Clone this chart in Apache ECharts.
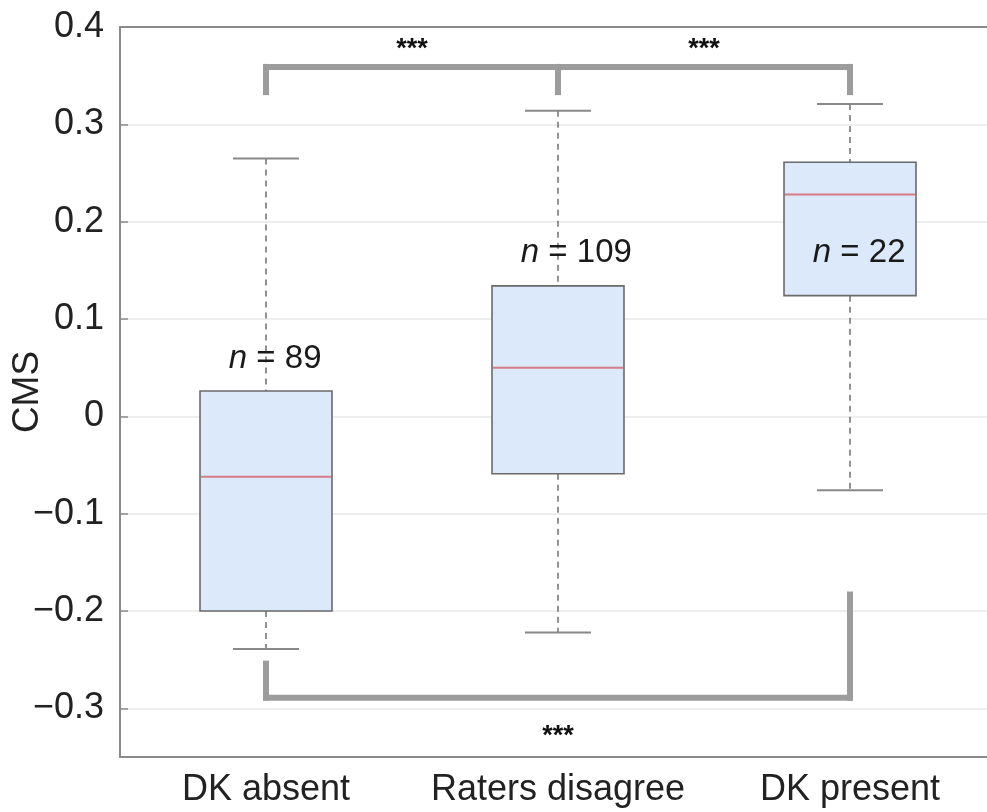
<!DOCTYPE html>
<html>
<head>
<meta charset="utf-8">
<script src="https://cdn.jsdelivr.net/npm/echarts@6/dist/echarts.min.js"></script>
<style>
  html, body { margin: 0; padding: 0; background: #fff; }
  #chart { width: 987px; height: 812px; }
</style>
</head>
<body>
<div id="chart"></div>
<script>
// ---- data ----
const categories   = ['DK absent', 'Raters disagree', 'DK present'];
const whiskerLow   = [-0.239, -0.222, -0.076];
const quartile1    = [-0.200, -0.059,  0.124];
const medians      = [-0.062,  0.050,  0.228];
const quartile3    = [ 0.026,  0.134,  0.261];
const whiskerHigh  = [ 0.265,  0.314,  0.321];
const nCounts      = [89, 109, 22];
const nLabelValue  = [0.059, 0.168, 0.168];
const yTicks       = [-0.3, -0.2, -0.1, 0, 0.1, 0.2, 0.3, 0.4];

// significance brackets (category indices, CMS values)
const topBracketY      = 0.359;
const topBracketDrops  = [[0, 0.330], [1, 0.330], [2, 0.330]];
const botBracketY      = -0.289;
const botBracketDrops  = [[0, -0.251], [2, -0.180]];
const starMarks        = [[0, 1, 0.3815], [1, 2, 0.3815], [0, 2, -0.3236]];
const starText         = '***';

const FONT = 'Liberation Sans, Arial, Helvetica, sans-serif';
const NFS = 33;
const boxData = categories.map((c, i) => [i, whiskerLow[i], quartile1[i], medians[i], quartile3[i], whiskerHigh[i], nCounts[i], nLabelValue[i]]);

function renderBox(params, api) {
  const i = api.value(0);
  const lo = api.coord([i, api.value(1)]);
  const q1 = api.coord([i, api.value(2)]);
  const md = api.coord([i, api.value(3)]);
  const q3 = api.coord([i, api.value(4)]);
  const hi = api.coord([i, api.value(5)]);
  const nl = api.coord([i, api.value(7)]);
  const band = api.size([1, 0])[0];
  const w = band * 0.452;
  const cw = w / 2;
  const x = lo[0];
  const dashStyle = { stroke: '#777777', lineWidth: 1.6, lineDash: [6, 5] };
  const capStyle = { stroke: '#888888', lineWidth: 2 };
  const eqHalf = NFS * 0.584 / 2;
  const txt = { fill: '#1a1a1a', font: NFS + 'px ' + FONT, verticalAlign: 'middle' };
  return {
    type: 'group',
    children: [
      { type: 'line', shape: { x1: x, y1: hi[1], x2: x, y2: q3[1] }, style: dashStyle },
      { type: 'line', shape: { x1: x, y1: q1[1], x2: x, y2: lo[1] }, style: dashStyle },
      { type: 'line', shape: { x1: x - cw / 2, y1: hi[1], x2: x + cw / 2, y2: hi[1] }, style: capStyle },
      { type: 'line', shape: { x1: x - cw / 2, y1: lo[1], x2: x + cw / 2, y2: lo[1] }, style: capStyle },
      { type: 'rect', shape: { x: x - w / 2, y: q3[1], width: w, height: q1[1] - q3[1] },
        style: { fill: '#dbe9fb', stroke: '#6a6a6a', lineWidth: 1.6 } },
      { type: 'line', shape: { x1: x - w / 2 + 1, y1: md[1], x2: x + w / 2 - 1, y2: md[1] },
        style: { stroke: '#d67c86', lineWidth: 2 } },
      { type: 'text', x: x - eqHalf, y: nl[1], z2: 10,
        style: Object.assign({}, txt, { text: 'n ', font: 'italic ' + NFS + 'px ' + FONT, align: 'right' }) },
      { type: 'text', x: x, y: nl[1], z2: 10,
        style: Object.assign({}, txt, { text: '=', align: 'center' }) },
      { type: 'text', x: x + eqHalf, y: nl[1], z2: 10,
        style: Object.assign({}, txt, { text: ' ' + api.value(6), align: 'left' }) }
    ]
  };
}

function renderBrackets(params, api) {
  if (params.dataIndex !== 0) return null;
  const style = { stroke: '#9c9c9c', lineWidth: 6, fill: null, lineCap: 'butt', lineJoin: 'miter' };
  const children = [];
  const tL = api.coord([topBracketDrops[0][0], topBracketY]);
  const tR = api.coord([topBracketDrops[topBracketDrops.length - 1][0], topBracketY]);
  children.push({ type: 'line', shape: { x1: tL[0] - 3, y1: tL[1], x2: tR[0] + 3, y2: tR[1] }, style });
  topBracketDrops.forEach(d => {
    const a = api.coord([d[0], topBracketY]);
    const b = api.coord([d[0], d[1]]);
    children.push({ type: 'line', shape: { x1: a[0], y1: a[1] - 3, x2: b[0], y2: b[1] }, style });
  });
  const bL = api.coord([botBracketDrops[0][0], botBracketY]);
  const bR = api.coord([botBracketDrops[botBracketDrops.length - 1][0], botBracketY]);
  children.push({ type: 'line', shape: { x1: bL[0] - 3, y1: bL[1], x2: bR[0] + 3, y2: bR[1] }, style });
  botBracketDrops.forEach(d => {
    const a = api.coord([d[0], botBracketY]);
    const b = api.coord([d[0], d[1]]);
    children.push({ type: 'line', shape: { x1: a[0], y1: a[1] + 3, x2: b[0], y2: b[1] }, style });
  });
  starMarks.forEach(s => {
    const p1 = api.coord([s[0], s[2]]);
    const p2 = api.coord([s[1], s[2]]);
    children.push({ type: 'text', x: (p1[0] + p2[0]) / 2, y: p1[1] + 5,
      style: { text: starText, fill: '#111', font: 'bold 27px ' + FONT, align: 'center', verticalAlign: 'middle' } });
  });
  return { type: 'group', children };
}

const fmt = v => {
  if (Math.abs(v) < 1e-9) return '0';
  return (v < 0 ? '\u2212' : '') + Math.abs(v).toFixed(1);
};

const chart = echarts.init(document.getElementById('chart'), null, { renderer: 'canvas' });
chart.setOption({
  backgroundColor: '#ffffff',
  animation: false,
  grid: { left: 120, top: 27, width: 876, height: 730, containLabel: false, outerBoundsMode: 'none' },
  xAxis: [
    {
      type: 'category', data: categories, position: 'bottom', boundaryGap: true,
      axisLine: { onZero: false, lineStyle: { color: '#8a8a8a', width: 2 } },
      axisTick: { inside: true, alignWithLabel: true, length: 8, lineStyle: { color: '#8a8a8a', width: 1.5 } },
      axisLabel: { interval: 0, hideOverlap: false, fontSize: 36, fontFamily: FONT, color: '#222222', margin: 15 },
      splitLine: { show: false }
    },
    {
      type: 'category', data: categories, position: 'top', boundaryGap: true,
      axisLine: { onZero: false, lineStyle: { color: '#8a8a8a', width: 2 } },
      axisTick: { inside: true, alignWithLabel: true, length: 8, lineStyle: { color: '#8a8a8a', width: 1.5 } },
      axisLabel: { show: false },
      splitLine: { show: false }
    }
  ],
  yAxis: {
    type: 'value', min: -0.35, max: 0.4,
    name: 'CMS', nameLocation: 'middle', nameGap: 74, nameMoveOverlap: false,
    nameTextStyle: { fontSize: 37, fontFamily: FONT, color: '#222222' },
    axisLine: { show: true, onZero: false, lineStyle: { color: '#8a8a8a', width: 2 } },
    axisTick: { show: true, inside: true, length: 8, customValues: yTicks, lineStyle: { color: '#8a8a8a', width: 1.5 } },
    axisLabel: { fontSize: 36, fontFamily: FONT, color: '#222222', margin: 16, customValues: yTicks, formatter: fmt },
    splitLine: { show: true, lineStyle: { color: '#e8e8e8', width: 1.5 } }
  },
  series: [
    { type: 'custom', xAxisIndex: 0, renderItem: renderBox, data: boxData, z: 2 },
    { type: 'custom', xAxisIndex: 0, renderItem: renderBrackets, data: [[0, 0]], z: 3 }
  ]
});
</script>
</body>
</html>
